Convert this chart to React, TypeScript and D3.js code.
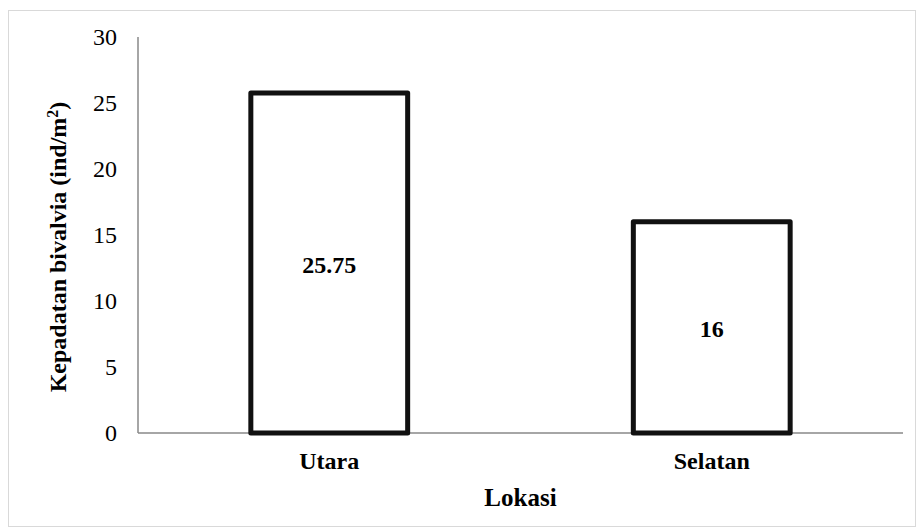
import React, { useRef, useEffect } from 'react';
import * as d3 from 'd3';

const categories = ['Utara', 'Selatan'];
const values = [25.75, 16];
const valueLabels = ['25.75', '16'];
const yTicks = [0, 5, 10, 15, 20, 25, 30];

const W = 917;
const H = 528;

const App: React.FC = () => {
  const svgRef = useRef<SVGSVGElement>(null);

  useEffect(() => {
    if (!svgRef.current) return;
    const svg = d3.select(svgRef.current);
    svg.selectAll('*').remove();

    const font = "'Times New Roman', 'Liberation Serif', Times, serif";
    const plot = { left: 138, right: 903, top: 37, bottom: 433 };

    // Chart border
    svg.append('rect')
      .attr('x', 8.5).attr('y', 10.5)
      .attr('width', 907).attr('height', 516)
      .attr('fill', 'white')
      .attr('stroke', '#d9d9d9')
      .attr('stroke-width', 1);

    const x = d3.scaleBand<string>()
      .domain(categories)
      .range([plot.left, plot.right])
      .paddingInner(0.59)
      .paddingOuter(0.295);

    const y = d3.scaleLinear()
      .domain([0, 30])
      .range([plot.bottom, plot.top]);

    // Tick labels
    svg.append('g')
      .selectAll('text')
      .data(yTicks)
      .enter()
      .append('text')
      .attr('x', plot.left - 21)
      .attr('y', d => y(d))
      .attr('dy', '0.33em')
      .attr('text-anchor', 'end')
      .style('font-family', font)
      .attr('font-size', '24px')
      .attr('fill', '#000')
      .text(d => d.toString());

    // Axes
    svg.append('line')
      .attr('x1', plot.left).attr('x2', plot.left)
      .attr('y1', plot.top).attr('y2', plot.bottom)
      .attr('stroke', '#888').attr('stroke-width', 1.5);
    svg.append('line')
      .attr('x1', plot.left).attr('x2', plot.right)
      .attr('y1', plot.bottom).attr('y2', plot.bottom)
      .attr('stroke', '#888').attr('stroke-width', 1.5);

    // Bars
    svg.append('g')
      .selectAll('rect')
      .data(values)
      .enter()
      .append('rect')
      .attr('x', (d, i) => x(categories[i])!)
      .attr('y', d => y(d))
      .attr('width', x.bandwidth())
      .attr('height', d => y(0) - y(d))
      .attr('fill', 'white')
      .attr('stroke', '#111')
      .attr('stroke-width', 5)
      .attr('stroke-linejoin', 'round');

    // Value labels
    svg.append('g')
      .selectAll('text')
      .data(values)
      .enter()
      .append('text')
      .attr('x', (d, i) => x(categories[i])! + x.bandwidth() / 2)
      .attr('y', d => (y(d) + y(0)) / 2 + 2)
      .attr('dy', '0.33em')
      .attr('text-anchor', 'middle')
      .style('font-family', font)
      .attr('font-size', '24px')
      .attr('font-weight', 'bold')
      .attr('fill', '#000')
      .text((d, i) => valueLabels[i]);

    // Category labels
    svg.append('g')
      .selectAll('text')
      .data(categories)
      .enter()
      .append('text')
      .attr('x', d => x(d)! + x.bandwidth() / 2)
      .attr('y', 461)
      .attr('dy', '0.33em')
      .attr('text-anchor', 'middle')
      .style('font-family', font)
      .attr('font-size', '24px')
      .attr('font-weight', 'bold')
      .attr('fill', '#000')
      .text(d => d);

    // X axis title
    svg.append('text')
      .attr('x', (plot.left + plot.right) / 2)
      .attr('y', 498)
      .attr('dy', '0.33em')
      .attr('text-anchor', 'middle')
      .style('font-family', font)
      .attr('font-size', '25px')
      .attr('font-weight', 'bold')
      .attr('fill', '#000')
      .text('Lokasi');

    // Y axis title
    const yTitle = svg.append('text')
      .attr('transform', `translate(58, ${(plot.top + plot.bottom) / 2 + 12}) rotate(-90)`)
      .attr('dy', '0.33em')
      .attr('text-anchor', 'middle')
      .style('font-family', font)
      .attr('font-size', '24px')
      .attr('font-weight', 'bold')
      .attr('fill', '#000');
    yTitle.append('tspan').text('Kepadatan bivalvia (ind/m');
    yTitle.append('tspan').attr('baseline-shift', 'super').attr('font-size', '16px').text('2');
    yTitle.append('tspan').text(')');
  }, []);

  return (
    <svg
      ref={svgRef}
      width={W}
      height={H}
      style={{ position: 'absolute', left: 0, top: 0, display: 'block' }}
    />
  );
};

export default App;
